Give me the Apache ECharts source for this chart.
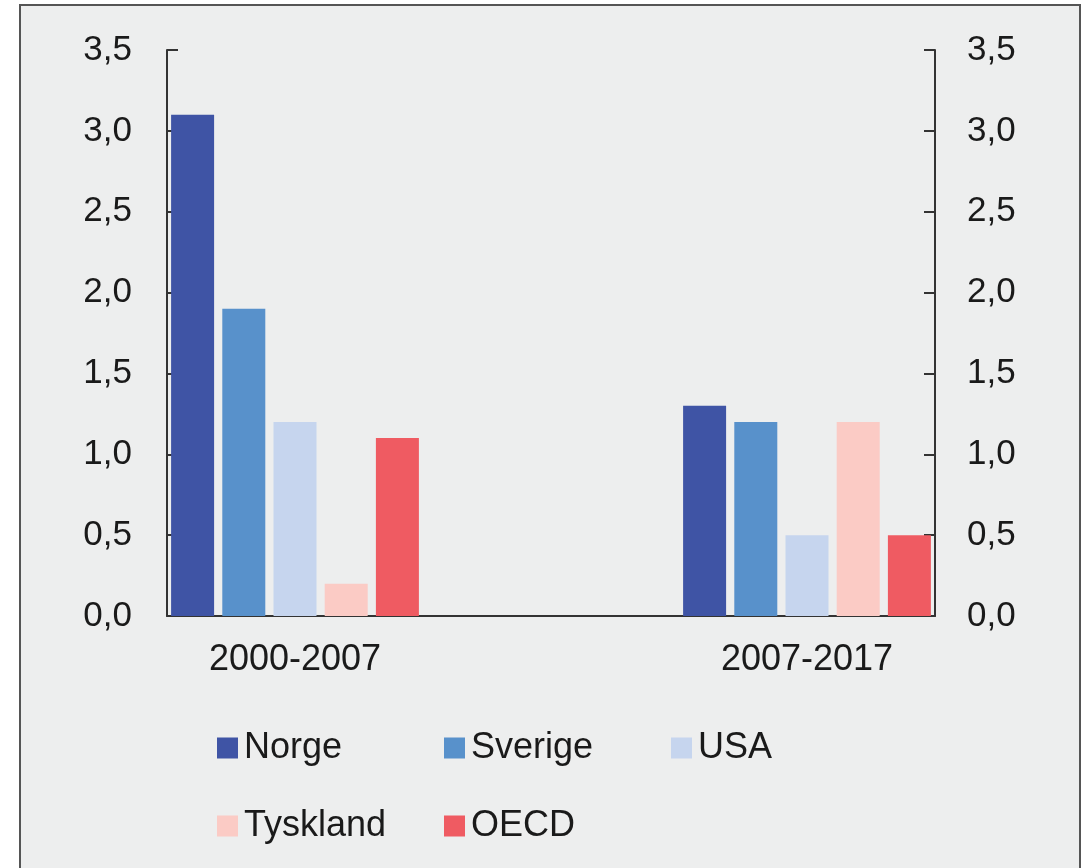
<!DOCTYPE html>
<html>
<head>
<meta charset="utf-8">
<script src="https://cdn.jsdelivr.net/npm/echarts@6/dist/echarts.min.js"></script>
<style>
  html, body { margin: 0; padding: 0; background: #fff; overflow: hidden; }
  #frame {
    position: absolute; left: 19px; top: 4px; width: 1058px; height: 900px;
    border: 2px solid #555; background: #edeeee;
  }
  #chart { position: absolute; left: 0; top: 0; width: 1086px; height: 868px; }
</style>
</head>
<body>
<div id="frame"></div>
<div id="chart"></div>
<script>
// data
const periods = ['2000-2007', '2007-2017']
const countries = ['Norge', 'Sverige', 'USA', 'Tyskland', 'OECD']
const norge = [3.1, 1.3]
const sverige = [1.9, 1.2]
const usa = [1.2, 0.5]
const tyskland = [0.2, 1.2]
const oecd = [1.1, 0.5]
const yTicks = [0, 0.5, 1, 1.5, 2, 2.5, 3, 3.5]

const colors = ['#3f54a5', '#5891cb', '#c6d5ee', '#fbcbc5', '#ef5b62']
const values = [norge, sverige, usa, tyskland, oecd]

// each period gets 5 bar slots, then 5 empty slots before the next one
const slotsPerGroup = 10
const nSlots = slotsPerGroup * (periods.length - 1) + countries.length
const slots = []
for (let i = 0; i < nSlots; i++) slots.push('s' + i)
const labelAt = {}
periods.forEach((p, g) => { labelAt['s' + (g * slotsPerGroup + 2)] = p })

const series = countries.map((name, c) => {
  const data = slots.map(() => '-')
  values[c].forEach((v, g) => { data[g * slotsPerGroup + c] = v })
  return {
    name: name,
    type: 'bar',
    data: data,
    barWidth: 43,
    barGap: '-100%',
    itemStyle: { color: colors[c] }
  }
})

const fmt = v => v.toFixed(1).replace('.', ',')
const font = 'Liberation Sans, Arial, sans-serif'
const ink = '#1a1a1a'

const yAxisBase = {
  type: 'value',
  min: yTicks[0],
  max: yTicks[yTicks.length - 1],
  interval: 0.5,
  splitLine: { show: false },
  axisLine: { show: true, lineStyle: { color: '#333', width: 2 } },
  axisTick: { show: true, inside: true, length: 11, lineStyle: { color: '#333', width: 2 } },
  axisLabel: { formatter: fmt, color: ink, fontSize: 35, fontFamily: font }
}

const legends = countries.map((name, c) => ({
  data: [name],
  left: 217 + (c % 3) * 227,
  top: c < 3 ? 728 : 806,
  padding: 0,
  icon: 'rect',
  itemWidth: 21,
  itemHeight: 21,
  selectedMode: false,
  textStyle: { color: ink, fontSize: 36, fontFamily: font, lineHeight: 40, padding: [0, 0, 0, 1] }
}))

const chart = echarts.init(document.getElementById('chart'), null, { renderer: 'canvas' })
chart.setOption({
  animation: false,
  backgroundColor: 'transparent',
  legend: legends,
  grid: { left: 167, right: 151, top: 50, bottom: 252, containLabel: false },
  xAxis: {
    type: 'category',
    data: slots,
    axisLine: { lineStyle: { color: '#333', width: 2 } },
    axisTick: { show: false },
    axisLabel: {
      interval: 0,
      margin: 26,
      color: ink,
      fontSize: 36,
      fontFamily: font,
      formatter: v => labelAt[v] || ''
    }
  },
  yAxis: [
    Object.assign({}, yAxisBase, { position: 'left', axisLabel: Object.assign({}, yAxisBase.axisLabel, { margin: 35 }) }),
    Object.assign({}, yAxisBase, { position: 'right', axisLabel: Object.assign({}, yAxisBase.axisLabel, { margin: 32 }) })
  ],
  series: series
})
</script>
</body>
</html>
